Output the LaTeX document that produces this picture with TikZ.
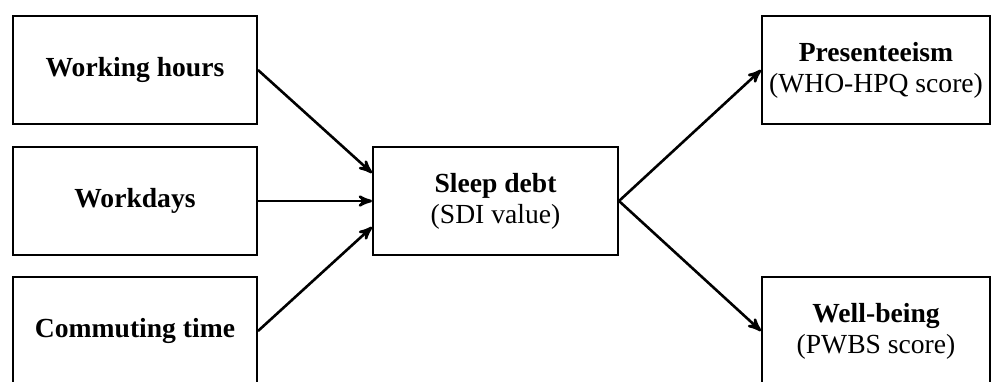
\documentclass[tikz,border=0pt]{standalone}
\usepackage{fontspec}
\setmainfont{Liberation Serif}
\usepackage{tikz}
\usetikzlibrary{arrows}

\begin{document}
\begin{tikzpicture}[->,>=stealth',line width=1.3pt,
                    font=\fontsize{13.8}{15.5}\selectfont,
                    factor/.style={draw,-,line width=1pt,align=center,
                                   minimum width=122pt,minimum height=54pt},
                    outcome/.style={factor,minimum width=114pt}]

  \useasboundingbox (-67.5pt,35pt) rectangle ++(497pt,-190.5pt);

  \node[factor]  (wh)                                          {\textbf{Working hours}};
  \node[factor]  (wd) [below of=wh,node distance=65.5pt]       {\textbf{Workdays}};
  \node[factor]  (ct) [below of=wd,node distance=65pt]         {\textbf{Commuting time}};
  \node[factor,minimum width=122.5pt]
                 (sd) [right of=wd,node distance=180.25pt]     {\textbf{Sleep debt}\\(SDI value)};
  \node[outcome] (pr) [right of=wh,node distance=370.5pt]      {\textbf{Presenteeism}\\(WHO-HPQ score)};
  \node[outcome] (wb) [right of=ct,node distance=370.5pt]      {\textbf{Well-being}\\(PWBS score)};

  \draw (wh.east) -- ([yshift=14pt]sd.west);
  \draw (wd.east) -- (sd.west);
  \draw (ct.east) -- ([yshift=-13pt]sd.west);
  \draw (sd.east) -- (pr.west);
  \draw (sd.east) -- (wb.west);
\end{tikzpicture}
\end{document}
